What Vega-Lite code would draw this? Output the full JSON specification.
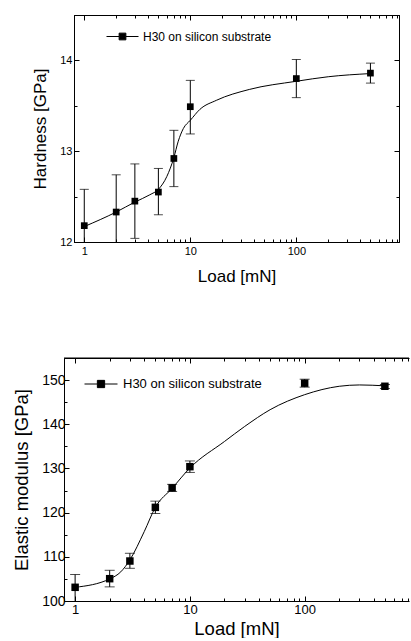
{
  "$schema": "https://vega.github.io/schema/vega-lite/v6.json",
  "padding": {"left": 1, "top": 8, "right": 0, "bottom": 0},
  "spacing": 66,
  "bounds": "full",
  "config": {
    "view": {"stroke": null},
    "font": "Liberation Sans",
    "axis": {"grid": false, "domain": true, "ticks": true, "domainColor": "black", "tickColor": "black", "labelColor": "black", "titleColor": "black", "titleFontWeight": "normal", "labelFont": "Liberation Sans", "titleFont": "Liberation Sans", "labelOverlap": false, "labelFlush": false, "labelBound": false, "domainWidth": 1, "tickWidth": 1}
  },
  "resolve": {"scale": {"color": "independent"}, "legend": {"color": "independent"}},
  "datasets": {
    "hard_pts": [
      {"load": 1, "hardness": 12.18, "lo": 11.78, "hi": 12.58, "series": "H30 on silicon substrate"},
      {"load": 2, "hardness": 12.33, "lo": 11.92, "hi": 12.74, "series": "H30 on silicon substrate"},
      {"load": 3, "hardness": 12.45, "lo": 12.04, "hi": 12.86, "series": "H30 on silicon substrate"},
      {"load": 5, "hardness": 12.55, "lo": 12.30, "hi": 12.81, "series": "H30 on silicon substrate"},
      {"load": 7, "hardness": 12.92, "lo": 12.61, "hi": 13.23, "series": "H30 on silicon substrate"},
      {"load": 10, "hardness": 13.49, "lo": 13.19, "hi": 13.78, "series": "H30 on silicon substrate"},
      {"load": 100, "hardness": 13.80, "lo": 13.59, "hi": 14.01, "series": "H30 on silicon substrate"},
      {"load": 500, "hardness": 13.86, "lo": 13.75, "hi": 13.97, "series": "H30 on silicon substrate"}
    ],
    "hard_curve": [
      {"load": 1, "hardness": 12.17},
      {"load": 2, "hardness": 12.33},
      {"load": 3, "hardness": 12.44},
      {"load": 4.15, "hardness": 12.52},
      {"load": 5, "hardness": 12.58},
      {"load": 6, "hardness": 12.72},
      {"load": 7, "hardness": 12.93},
      {"load": 7.7, "hardness": 13.11},
      {"load": 8.6, "hardness": 13.25},
      {"load": 10, "hardness": 13.34},
      {"load": 12.3, "hardness": 13.46},
      {"load": 17.6, "hardness": 13.56},
      {"load": 36, "hardness": 13.68},
      {"load": 100, "hardness": 13.77},
      {"load": 200, "hardness": 13.82},
      {"load": 500, "hardness": 13.855}
    ],
    "mod_pts": [
      {"load": 1, "modulus": 103.1, "lo": 99.8, "hi": 106.0, "series": "H30 on silicon substrate"},
      {"load": 2, "modulus": 105.05, "lo": 103.2, "hi": 106.95, "series": "H30 on silicon substrate"},
      {"load": 3, "modulus": 109.05, "lo": 107.4, "hi": 110.8, "series": "H30 on silicon substrate"},
      {"load": 5, "modulus": 121.2, "lo": 119.8, "hi": 122.6, "series": "H30 on silicon substrate"},
      {"load": 7, "modulus": 125.6, "lo": 124.8, "hi": 126.4, "series": "H30 on silicon substrate"},
      {"load": 10, "modulus": 130.4, "lo": 129.1, "hi": 131.7, "series": "H30 on silicon substrate"},
      {"load": 100, "modulus": 149.3, "lo": 148.4, "hi": 150.2, "series": "H30 on silicon substrate"},
      {"load": 500, "modulus": 148.6, "lo": 148.1, "hi": 149.0, "series": "H30 on silicon substrate"}
    ],
    "mod_curve": [
      {"load": 1, "modulus": 103.1},
      {"load": 2, "modulus": 105.0},
      {"load": 2.5, "modulus": 106.6},
      {"load": 3, "modulus": 109.3},
      {"load": 4, "modulus": 115.7},
      {"load": 5, "modulus": 121.2},
      {"load": 7, "modulus": 125.5},
      {"load": 10, "modulus": 130.1},
      {"load": 20, "modulus": 136.1},
      {"load": 30, "modulus": 139.5},
      {"load": 50, "modulus": 143.3},
      {"load": 100, "modulus": 146.7},
      {"load": 200, "modulus": 148.6},
      {"load": 300, "modulus": 148.9},
      {"load": 500, "modulus": 148.7}
    ],
    "mod_top": [
      {"modulus": 155}
    ]
  },
  "vconcat": [
    {
      "spacing": 0,
      "resolve": {"scale": {"color": "independent"}, "legend": {"color": "independent"}},
      "hconcat": [
        {
          "width": 30,
          "height": 1,
          "data": {"values": []},
          "mark": "point"
        },
        {
          "width": 325,
          "height": 227,
          "view": {"stroke": "black", "strokeWidth": 1},
          "resolve": {"axis": {"x": "independent", "y": "independent"}},
          "layer": [
            {
              "data": {"name": "hard_curve"},
              "mark": {"type": "line", "color": "black", "strokeWidth": 1, "interpolate": "monotone"},
              "encoding": {
                "x": {"field": "load", "type": "quantitative", "scale": {"type": "log", "domain": [0.8, 930], "nice": false},
                  "axis": {"orient": "top", "title": null, "labels": false,
                    "values": [1,2,3,4,5,6,7,8,9,10,20,30,40,50,60,70,80,90,100,200,300,400,500,600,700,800,900],
                    "tickSize": {"condition": {"test": "datum.value == 1 || datum.value == 10 || datum.value == 100", "value": -5}, "value": -3}}},
                "y": {"field": "hardness", "type": "quantitative", "scale": {"domain": [12, 14.5], "nice": false, "zero": false},
                  "axis": {"orient": "left", "title": "Hardness [GPa]", "titleFontSize": 17, "titlePadding": 10, "labelFontSize": 11, "labelPadding": 7,
                    "values": [12, 12.5, 13, 13.5, 14, 14.5],
                    "labelExpr": "datum.value % 1 == 0 ? format(datum.value, 'd') : ''",
                    "tickSize": {"condition": {"test": "datum.value % 1 == 0", "value": -5}, "value": -3}}}
              }
            },
            {
              "data": {"name": "hard_pts"},
              "mark": {"type": "rule", "color": "black", "strokeWidth": 1, "clip": true},
              "encoding": {
                "x": {"field": "load", "type": "quantitative",
                  "axis": {"orient": "bottom", "title": "Load [mN]", "titleFontSize": 17, "titlePadding": 10, "labelFontSize": 11, "labelPadding": 8,
                    "values": [1,2,3,4,5,6,7,8,9,10,20,30,40,50,60,70,80,90,100,200,300,400,500,600,700,800,900],
                    "labelExpr": "datum.value == 1 || datum.value == 10 || datum.value == 100 ? format(datum.value, 'd') : ''",
                    "tickSize": {"condition": {"test": "datum.value == 1 || datum.value == 10 || datum.value == 100", "value": -5}, "value": -3}}},
                "y": {"field": "lo", "type": "quantitative",
                  "axis": {"orient": "right", "title": null, "labels": false,
                    "values": [12, 12.5, 13, 13.5, 14, 14.5],
                    "tickSize": {"condition": {"test": "datum.value % 1 == 0", "value": -5}, "value": -3}}},
                "y2": {"field": "hi"}
              }
            },
            {
              "data": {"name": "hard_pts"},
              "mark": {"type": "tick", "orient": "horizontal", "color": "black", "size": 9, "thickness": 1, "clip": true},
              "encoding": {
                "x": {"field": "load", "type": "quantitative", "axis": null},
                "y": {"field": "lo", "type": "quantitative", "axis": null}
              }
            },
            {
              "data": {"name": "hard_pts"},
              "mark": {"type": "tick", "orient": "horizontal", "color": "black", "size": 9, "thickness": 1, "clip": true},
              "encoding": {
                "x": {"field": "load", "type": "quantitative", "axis": null},
                "y": {"field": "hi", "type": "quantitative", "axis": null}
              }
            },
            {
              "data": {"name": "hard_pts"},
              "mark": {"type": "point", "shape": "square", "filled": true, "size": 45, "opacity": 1},
              "encoding": {
                "x": {"field": "load", "type": "quantitative", "axis": null},
                "y": {"field": "hardness", "type": "quantitative", "axis": null},
                "color": {"field": "series", "type": "nominal", "scale": {"range": ["black"]},
                  "legend": {"orient": "none", "legendX": 32, "legendY": 5, "title": null,
                    "symbolType": "M-1,0H-0.21M0.21,0H1M-0.21,-0.21H0.21V0.21H-0.21Z",
                    "symbolSize": 1024, "symbolFillColor": "black", "symbolStrokeColor": "black", "symbolStrokeWidth": 1,
                    "labelFontSize": 12, "labelFont": "Liberation Sans", "labelColor": "black", "labelOffset": 4}}
              }
            }
          ]
        }
      ]
    },
    {
      "spacing": 0,
      "resolve": {"scale": {"color": "independent"}, "legend": {"color": "independent"}},
      "hconcat": [
        {
          "width": 11,
          "height": 1,
          "data": {"values": []},
          "mark": "point"
        },
        {
          "width": 345,
          "height": 243,
          "resolve": {"axis": {"x": "independent", "y": "independent"}},
          "layer": [
            {
              "data": {"name": "mod_curve"},
              "mark": {"type": "line", "color": "black", "strokeWidth": 1, "interpolate": "monotone"},
              "encoding": {
                "x": {"field": "load", "type": "quantitative", "scale": {"type": "log", "domain": [0.8, 811], "nice": false},
                  "axis": {"orient": "top", "title": null, "labels": false,
                    "values": [1,2,3,4,5,6,7,8,9,10,20,30,40,50,60,70,80,90,100,200,300,400,500,600,700,800],
                    "tickSize": {"condition": {"test": "datum.value == 1 || datum.value == 10 || datum.value == 100", "value": -5}, "value": -3}}},
                "y": {"field": "modulus", "type": "quantitative", "scale": {"domain": [100, 155], "nice": false, "zero": false},
                  "axis": {"orient": "left", "title": "Elastic modulus [GPa]", "titleFontSize": 18.5, "titlePadding": 10, "labelFontSize": 14, "labelPadding": 4,
                    "values": [100, 105, 110, 115, 120, 125, 130, 135, 140, 145, 150, 155],
                    "labelExpr": "datum.value % 10 == 0 ? format(datum.value, 'd') : ''",
                    "tickSize": {"condition": {"test": "datum.value % 10 == 0", "value": -5}, "value": -3}}}
              }
            },
            {
              "data": {"name": "mod_top"},
              "mark": {"type": "rule", "color": "black", "strokeWidth": 1},
              "encoding": {
                "y": {"field": "modulus", "type": "quantitative", "axis": null}
              }
            },
            {
              "data": {"name": "mod_pts"},
              "mark": {"type": "rule", "color": "black", "strokeWidth": 1, "clip": true},
              "encoding": {
                "x": {"field": "load", "type": "quantitative",
                  "axis": {"orient": "bottom", "title": "Load [mN]", "titleFontSize": 18.5, "titlePadding": 1, "labelFontSize": 13, "labelPadding": 7,
                    "values": [1,2,3,4,5,6,7,8,9,10,20,30,40,50,60,70,80,90,100,200,300,400,500,600,700,800],
                    "labelExpr": "datum.value == 1 || datum.value == 10 || datum.value == 100 ? format(datum.value, 'd') : ''",
                    "tickSize": {"condition": {"test": "datum.value == 1 || datum.value == 10 || datum.value == 100", "value": -5}, "value": -3}}},
                "y": {"field": "lo", "type": "quantitative", "axis": null},
                "y2": {"field": "hi"}
              }
            },
            {
              "data": {"name": "mod_pts"},
              "mark": {"type": "tick", "orient": "horizontal", "color": "black", "size": 10, "thickness": 1, "clip": true},
              "encoding": {
                "x": {"field": "load", "type": "quantitative", "axis": null},
                "y": {"field": "lo", "type": "quantitative", "axis": null}
              }
            },
            {
              "data": {"name": "mod_pts"},
              "mark": {"type": "tick", "orient": "horizontal", "color": "black", "size": 10, "thickness": 1, "clip": true},
              "encoding": {
                "x": {"field": "load", "type": "quantitative", "axis": null},
                "y": {"field": "hi", "type": "quantitative", "axis": null}
              }
            },
            {
              "data": {"name": "mod_pts"},
              "mark": {"type": "point", "shape": "square", "filled": true, "size": 56, "opacity": 1},
              "encoding": {
                "x": {"field": "load", "type": "quantitative", "axis": null},
                "y": {"field": "modulus", "type": "quantitative", "axis": null},
                "color": {"field": "series", "type": "nominal", "scale": {"range": ["black"]},
                  "legend": {"orient": "none", "legendX": 20, "legendY": 9, "title": null,
                    "symbolType": "M-1,0H-0.22M0.22,0H1M-0.22,-0.22H0.22V0.22H-0.22Z",
                    "symbolSize": 1089, "symbolFillColor": "black", "symbolStrokeColor": "black", "symbolStrokeWidth": 1,
                    "labelFontSize": 13, "labelFont": "Liberation Sans", "labelColor": "black", "labelOffset": 5}}
              }
            }
          ]
        }
      ]
    }
  ]
}
